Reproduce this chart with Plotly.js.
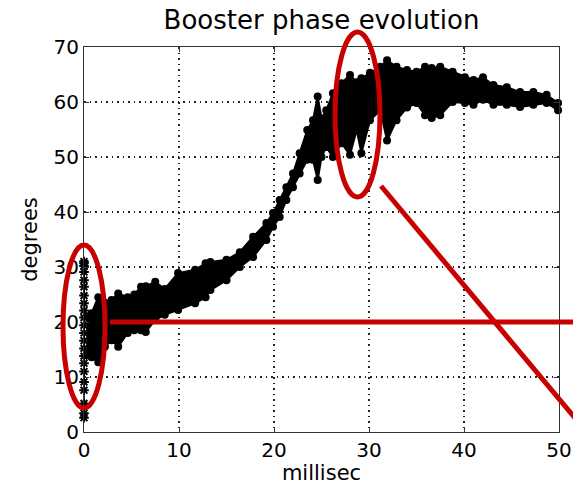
<!DOCTYPE html>
<html>
<head>
<meta charset="utf-8">
<script src="https://cdn.plot.ly/plotly-3.0.1.min.js"></script>
<style>html,body{margin:0;padding:0;background:#fff;}#chart{width:573px;height:485px;}</style>
</head>
<body>
<div id="chart"></div>
<script>
// Band envelope of the phase trace
var timeMs = [0.3, 0.8, 1.5, 2.2, 2.9, 3.6, 4.6, 5.3, 6.0, 6.5, 7.5, 8.5, 9.9, 11.7, 12.8, 13.3, 15.0, 16.4, 17.8, 19.2, 19.9, 20.6, 21.3, 22.0, 22.7, 23.5, 24.1, 24.6, 25.0, 25.5, 26.2, 27.1, 28.0, 28.7, 29.2, 30.1, 31.2, 31.9, 32.9, 34.0, 35.0, 35.9, 36.6, 37.5, 38.8, 40.1, 41.0, 42.0, 43.1, 44.5, 45.9, 47.3, 48.7, 49.9];
var lowerDeg = [14.0, 13.6, 12.7, 15.5, 16.7, 15.5, 18.0, 18.5, 18.5, 18.2, 20.4, 21.3, 22.2, 23.4, 24.5, 25.8, 27.6, 30.0, 31.8, 34.9, 37.3, 39.1, 42.2, 44.5, 47.0, 49.5, 49.5, 45.8, 50.0, 51.8, 50.0, 52.5, 50.4, 54.9, 50.7, 56.7, 58.5, 53.0, 56.7, 59.0, 59.8, 57.6, 57.1, 57.6, 60.0, 59.8, 59.5, 60.4, 59.5, 59.5, 59.1, 59.5, 59.8, 58.5];
var upperDeg = [21.0, 21.6, 24.5, 23.5, 24.0, 25.2, 24.5, 25.0, 26.4, 26.5, 27.3, 26.0, 28.9, 29.5, 30.7, 30.9, 31.3, 32.7, 35.5, 38.0, 39.8, 42.2, 44.5, 47.0, 50.7, 54.9, 56.7, 61.0, 57.0, 58.5, 61.6, 63.4, 64.9, 63.6, 64.3, 65.3, 66.4, 67.6, 66.4, 65.8, 65.5, 66.4, 66.2, 66.4, 65.5, 64.5, 64.0, 64.5, 63.1, 62.7, 61.8, 61.8, 61.3, 59.8];
// Start-up samples at t = 0
var startTime = [0, 0, 0, 0, 0, 0, 0, 0, 0, 0, 0, 0, 0, 0, 0, 0, 0, 0, 0, 0, 0, 0];
var startDeg = [2.6, 3.4, 5.2, 7.6, 9.1, 11.0, 12.5, 13.8, 15.2, 16.6, 18.0, 19.4, 20.8, 22.1, 23.4, 24.8, 26.4, 27.6, 29.1, 30.2, 30.7, 31.0];
var xTicks = [0, 10, 20, 30, 40, 50];
var yTicks = [0, 10, 20, 30, 40, 50, 60, 70];

// Pixel frame of the axes box inside the 573x485 page
var L = 84, R = 559, T = 47, B = 432;
function px(x){ return (x - L) / (R - L); }
function py(y){ return (B - y) / (B - T); }

var red = '#c80000';
var fontFam = 'DejaVu Sans, Liberation Sans, Arial, sans-serif';

var traces = [
  {x: timeMs, y: lowerDeg, type: 'scatter', mode: 'lines+markers',
   line: {color: '#000', width: 2}, marker: {color: '#000', size: 8, symbol: 'circle'},
   hoverinfo: 'skip', showlegend: false, cliponaxis: false},
  {x: timeMs, y: upperDeg, type: 'scatter', mode: 'lines+markers', fill: 'tonexty',
   fillcolor: '#000', line: {color: '#000', width: 2}, marker: {color: '#000', size: 8, symbol: 'circle'},
   hoverinfo: 'skip', showlegend: false, cliponaxis: false},
  {x: startTime, y: startDeg, type: 'scatter', mode: 'lines+markers',
   line: {color: '#000', width: 1.5},
   marker: {color: '#000', size: 8, symbol: 'asterisk-open', line: {color: '#000', width: 2}},
   hoverinfo: 'skip', showlegend: false, cliponaxis: false}
];

var axisCommon = {
  showgrid: true, gridcolor: '#222', gridwidth: 1.5, griddash: '1.5px,4px',
  zeroline: false, showline: true, linecolor: '#333', linewidth: 1, mirror: 'ticks',
  ticks: 'inside', ticklen: 5, tickcolor: '#333', tickwidth: 1,
  tickfont: {family: fontFam, size: 20, color: '#000'}, automargin: false
};

var layout = {
  width: 573, height: 485,
  margin: {l: L, r: 573 - R, t: T, b: 485 - B, pad: 0},
  paper_bgcolor: '#fff', plot_bgcolor: '#fff',
  title: {text: 'Booster phase evolution', font: {family: fontFam, size: 26, color: '#000'},
          x: 0.5, xref: 'paper', xanchor: 'center', y: 1 - 20/485, yanchor: 'middle'},
  xaxis: Object.assign({}, axisCommon, {
    range: [0, 50], tickvals: xTicks, ticktext: xTicks.map(String),
    title: {text: 'millisec', font: {family: fontFam, size: 21, color: '#000'}, standoff: 4}
  }),
  yaxis: Object.assign({}, axisCommon, {
    range: [0, 70], tickvals: yTicks, ticktext: yTicks.map(String),
    title: {text: 'degrees', font: {family: fontFam, size: 21, color: '#000'}, standoff: 10}
  }),
  shapes: [
    {type: 'circle', xref: 'paper', yref: 'paper', x0: px(63), x1: px(105), y0: py(408), y1: py(245),
     line: {color: red, width: 5}, layer: 'above'},
    {type: 'circle', xref: 'paper', yref: 'paper', x0: px(335), x1: px(380), y0: py(197), y1: py(32),
     line: {color: red, width: 5}, layer: 'above'},
    {type: 'line', xref: 'paper', yref: 'paper', x0: px(110), x1: px(575), y0: py(322), y1: py(322),
     line: {color: red, width: 5}, layer: 'above'},
    {type: 'line', xref: 'paper', yref: 'paper', x0: px(381), x1: px(575), y0: py(186), y1: py(418),
     line: {color: red, width: 5}, layer: 'above'}
  ]
};

Plotly.newPlot('chart', traces, layout, {displayModeBar: false, staticPlot: true});
</script>
</body>
</html>
